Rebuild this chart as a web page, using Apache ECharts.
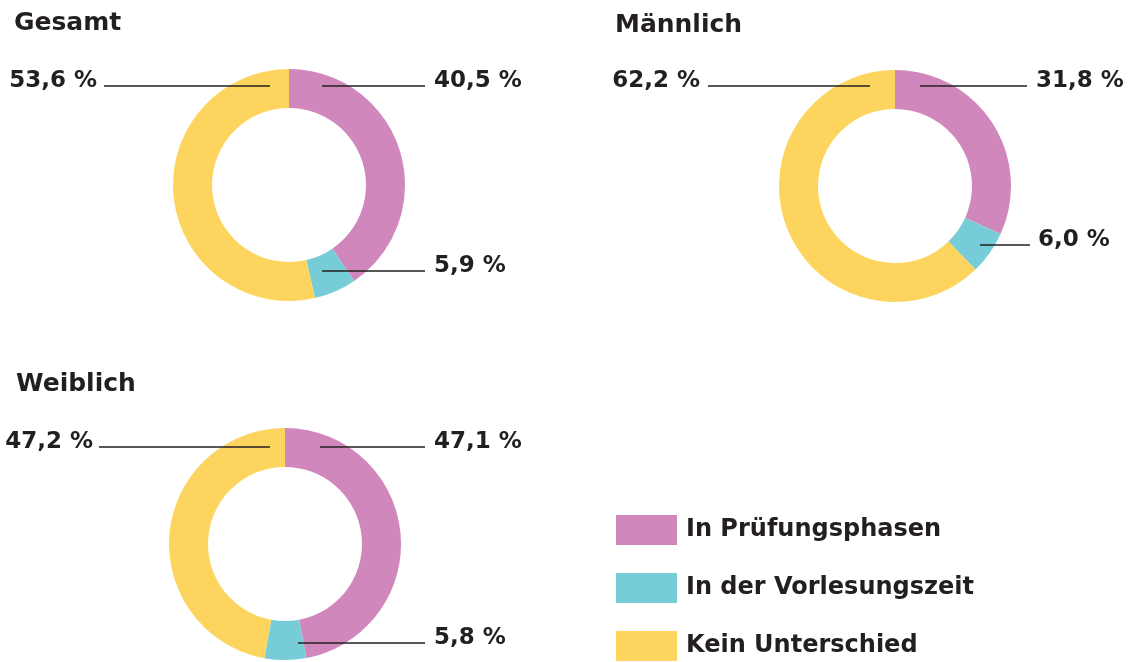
<!DOCTYPE html>
<html>
<head>
<meta charset="utf-8">
<style>
  html, body { margin: 0; padding: 0; background: #fff; }
  #chart { width: 1135px; height: 662px; }
</style>
<script src="https://cdn.jsdelivr.net/npm/echarts@6/dist/echarts.min.js"></script>
</head>
<body>
<div id="chart"></div>
<script>
// Kategorien
const categories = ['In Prüfungsphasen', 'In der Vorlesungszeit', 'Kein Unterschied'];
// Anteile in Prozent
const gesamtValues = [40.5, 5.9, 53.6];
const maennlichValues = [31.8, 6.0, 62.2];
const weiblichValues = [47.1, 5.8, 47.2];
const groupTitles = ['Gesamt', 'Männlich', 'Weiblich'];

const colors = ['#d088bc', '#76cdd8', '#fdd55e'];
const textColor = '#231f20';
const fontFamily = 'DejaVu Sans';

// Mittelpunkte der Ringe
const centers = [[289, 185], [895, 186], [285, 544]];

// Führungslinien je Ring: [x Start, x Ende, y, x Label, Ausrichtung]
const leaders = [
  [[322, 425, 86, 434, 'left'], [322, 425, 271, 434, 'left'], [270, 104, 86, 97, 'right']],
  [[920, 1027, 86, 1036, 'left'], [980, 1030, 245, 1038, 'left'], [870, 708, 86, 700, 'right']],
  [[320, 425, 447, 434, 'left'], [298, 425, 643, 434, 'left'], [270, 99, 447, 93, 'right']]
];

function fmt(v) {
  return v.toFixed(1).replace('.', ',') + ' %';
}

function makeSeries(idx, values) {
  return {
    name: groupTitles[idx],
    type: 'pie',
    center: centers[idx],
    radius: [77, 116],
    startAngle: 90,
    clockwise: true,
    avoidLabelOverlap: false,
    silent: true,
    data: values.map((v, i) => ({ name: categories[i], value: v })),
    label: {
      show: true,
      position: 'outside',
      formatter: p => fmt(p.value),
      fontFamily: fontFamily,
      fontWeight: 'bold',
      fontSize: 23,
      color: textColor
    },
    labelLine: { show: false },
    labelLayout: function (params) {
      const l = leaders[idx][params.dataIndex];
      return {
        x: l[3],
        y: l[2] - 5,
        align: l[4],
        verticalAlign: 'middle'
      };
    }
  };
}

// Führungslinien über den Ringen
const leaderLines = [];
leaders.forEach(group => {
  group.forEach(l => {
    leaderLines.push({
      type: 'line',
      z: 100,
      silent: true,
      shape: { x1: l[0], y1: l[2], x2: l[1], y2: l[2] },
      style: { stroke: textColor, lineWidth: 1.4 }
    });
  });
});

const myChart = echarts.init(document.getElementById('chart'));
myChart.setOption({
  backgroundColor: '#fff',
  color: colors,
  animation: false,
  title: [
    { text: groupTitles[0], left: 14, top: 11 },
    { text: groupTitles[1], left: 615, top: 13 },
    { text: groupTitles[2], left: 16, top: 372 }
  ].map(t => Object.assign(t, {
    padding: 0,
    textStyle: { fontFamily: fontFamily, fontWeight: 'bold', fontSize: 25, color: textColor }
  })),
  legend: {
    orient: 'vertical',
    left: 616,
    top: 515,
    height: 200,
    padding: 0,
    itemWidth: 61,
    itemHeight: 30,
    itemGap: 28,
    icon: 'rect',
    selectedMode: false,
    data: categories,
    textStyle: {
      fontFamily: fontFamily,
      fontWeight: 'bold',
      fontSize: 24,
      color: textColor,
      padding: [0, 0, 0, 4]
    }
  },
  graphic: leaderLines,
  series: [
    makeSeries(0, gesamtValues),
    makeSeries(1, maennlichValues),
    makeSeries(2, weiblichValues)
  ]
});
window.addEventListener('resize', () => myChart.resize());
</script>
</body>
</html>
